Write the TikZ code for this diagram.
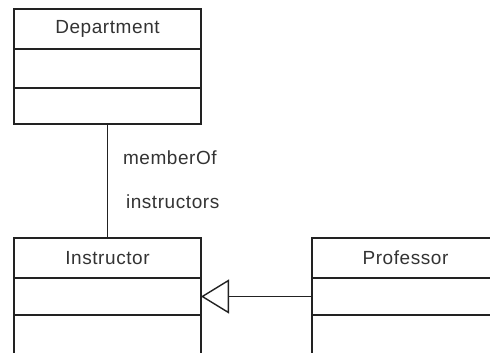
\documentclass[tikz,border=0pt]{standalone}
\usepackage{fontspec}
\setmainfont{Liberation Sans}[LetterSpace=3]
\usetikzlibrary{arrows.meta}
\definecolor{ink}{HTML}{222222}
\definecolor{txt}{HTML}{333333}
\begin{document}
\begin{tikzpicture}[x=1pt,y=-1pt,
  every node/.style={inner sep=0pt,outer sep=0pt,text=txt,font=\fontsize{19}{22}\selectfont},
  hdr/.style={draw=ink,line width=1.4pt,minimum width=187pt,minimum height=40pt},
  cmp/.style={draw=ink,line width=1.4pt,minimum width=187pt,anchor=north},
  lbl/.style={anchor=base west},
  assoc/.style={draw=ink,line width=1.4pt},
  gen/.style={draw=ink,line width=1.4pt,-{Triangle[open,length=28pt,width=34pt,line width=1.4pt]}}]
\useasboundingbox (0,0) rectangle (490,353);
\begin{scope}
\clip (0,0) rectangle (490,353);
% Department class
\node[hdr] (dept) at (107.5,29) {Department};
\node[cmp,minimum height=39pt] (deptA) at (dept.south) {};
\node[cmp,minimum height=36pt] (deptB) at (deptA.south) {};
% Instructor class (lower part runs past the page edge)
\node[hdr] (inst) at (107.5,258) {Instructor};
\node[cmp,minimum height=37pt] (instA) at (inst.south) {};
\node[cmp,minimum height=44pt] (instB) at (instA.south) {};
% Professor class
\node[hdr] (prof) at (405.5,258) {Professor};
\node[cmp,minimum height=37pt] (profA) at (prof.south) {};
\node[cmp,minimum height=44pt] (profB) at (profA.south) {};
% association and its role names
\draw[assoc] (deptB.south) -- (inst.north);
\node[lbl] (roleA) at (123,164) {memberOf};
\node[lbl] (roleB) at (126,208) {instructors};
% generalization
\draw[gen] (profA.west) -- (instA.east);
\end{scope}
\end{tikzpicture}
\end{document}
